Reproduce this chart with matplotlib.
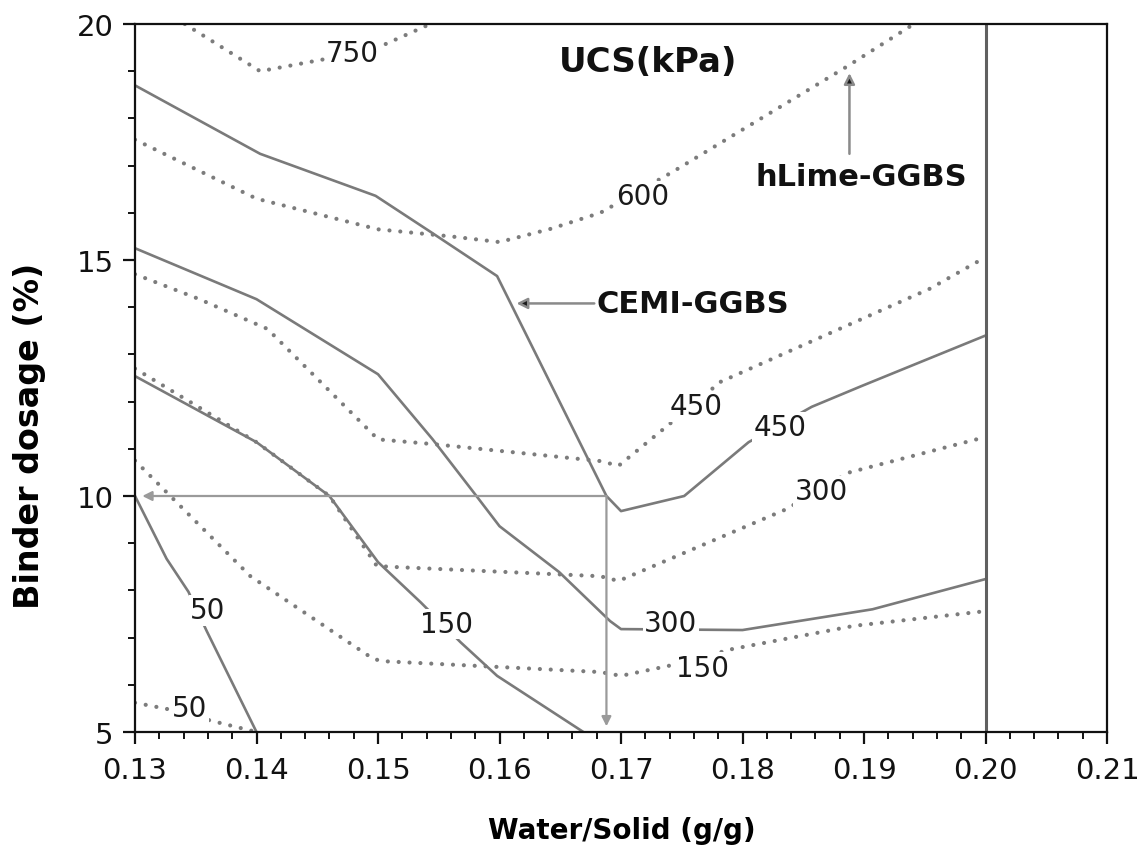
import matplotlib

matplotlib.use("Agg")
import matplotlib.pyplot as plt
from matplotlib.ticker import MultipleLocator, FormatStrFormatter

plt.rcParams["font.family"] = ["DejaVu Sans"]

# CEMI-GGBS contours (solid), UCS in kPa
cemi_450_x = [0.13, 0.1403, 0.1498, 0.1543, 0.1598, 0.1688, 0.17, 0.1752, 0.1805, 0.1857, 0.1898, 0.20]
cemi_450_y = [18.7, 17.25, 16.36, 15.6, 14.66, 10.0, 9.68, 10.0, 11.14, 11.89, 12.33, 13.4]
cemi_300_x = [0.13, 0.14, 0.15, 0.1545, 0.1581, 0.16, 0.1649, 0.1691, 0.17, 0.18, 0.1907, 0.20]
cemi_300_y = [15.25, 14.17, 12.58, 11.2, 10.0, 9.36, 8.39, 7.35, 7.18, 7.16, 7.6, 8.24]
cemi_150_x = [0.13, 0.14, 0.146, 0.15, 0.1535, 0.1568, 0.1598, 0.1669]
cemi_150_y = [12.54, 11.14, 10.0, 8.6, 7.75, 6.9, 6.19, 5.0]
cemi_50_x = [0.13, 0.1326, 0.1344, 0.1359, 0.14]
cemi_50_y = [10.0, 8.67, 7.97, 7.14, 5.0]

# hLime-GGBS contours (dotted)
hlime_750_x = [0.1341, 0.1403, 0.1455, 0.1504, 0.1543]
hlime_750_y = [20.0, 19.0, 19.25, 19.55, 20.0]
hlime_600_x = [0.13, 0.14, 0.15, 0.156, 0.16, 0.1642, 0.1683, 0.1742, 0.1886, 0.1941]
hlime_600_y = [17.55, 16.3, 15.65, 15.5, 15.38, 15.66, 16.0, 16.86, 19.1, 20.0]
hlime_450_x = [0.13, 0.1353, 0.1409, 0.15, 0.1545, 0.1683, 0.1698, 0.1735, 0.1782, 0.1954, 0.20]
hlime_450_y = [14.7, 14.17, 13.54, 11.2, 11.1, 10.74, 10.64, 11.42, 12.42, 14.39, 15.06]
hlime_300_x = [0.13, 0.14, 0.146, 0.1499, 0.151, 0.1683, 0.1698, 0.1836, 0.1888, 0.20]
hlime_300_y = [12.7, 11.14, 10.0, 8.52, 8.5, 8.3, 8.2, 9.72, 10.5, 11.25]
hlime_150_x = [0.13, 0.1395, 0.1496, 0.1504, 0.1683, 0.17, 0.1739, 0.1792, 0.1892, 0.20]
hlime_150_y = [10.75, 8.3, 6.55, 6.5, 6.27, 6.19, 6.4, 6.76, 7.25, 7.56]
hlime_50_x = [0.13, 0.1326, 0.1364, 0.14]
hlime_50_y = [5.62, 5.49, 5.23, 5.0]

# contour labels: (text, x, y)
cemi_labels = [("450", 0.1831, 11.46), ("300", 0.1741, 7.3), ("150", 0.1556, 7.29), ("50", 0.136, 7.58)]
hlime_labels = [("750", 0.1479, 19.39), ("600", 0.1718, 16.35), ("450", 0.1762, 11.9),
                ("300", 0.1865, 10.1), ("150", 0.1767, 6.36), ("50", 0.1345, 5.5)]

# design point
target_ws = 0.1688
target_dosage = 10.0
ws_limit = 0.20

line_col = "#7a7a7a"

fig = plt.figure(figsize=(11.46, 8.54), dpi=100)
ax = fig.add_axes([0.1178, 0.1417, 0.8482, 0.829])

solid_kw = dict(color=line_col, lw=1.9, solid_joinstyle="round", zorder=2)
dot_kw = dict(color="#7c7c7c", lw=3.0, linestyle=(0, (0.01, 2.6)), dash_capstyle="round", zorder=2)

for xs, ys in [(cemi_450_x, cemi_450_y), (cemi_300_x, cemi_300_y),
               (cemi_150_x, cemi_150_y), (cemi_50_x, cemi_50_y)]:
    ax.plot(xs, ys, **solid_kw)
for xs, ys in [(hlime_750_x, hlime_750_y), (hlime_600_x, hlime_600_y), (hlime_450_x, hlime_450_y),
               (hlime_300_x, hlime_300_y), (hlime_150_x, hlime_150_y), (hlime_50_x, hlime_50_y)]:
    ax.plot(xs, ys, **dot_kw)

label_box = dict(facecolor="white", edgecolor="none", pad=1.0)
for txt, x, y in cemi_labels + hlime_labels:
    ax.text(x, y, txt, ha="center", va="center", fontsize=20, color="#1a1a1a",
            bbox=label_box, zorder=3)

# vertical limit at w/s = 0.20
ax.axvline(ws_limit, color="#606060", lw=2.2, zorder=2)

# read-off arrows for the design point
arrow_col = "#9a9a9a"
ax.annotate("", xy=(0.1306, target_dosage), xytext=(target_ws, target_dosage),
            arrowprops=dict(arrowstyle="-|>", color=arrow_col, lw=1.6, mutation_scale=14,
                            shrinkA=0, shrinkB=0), zorder=2)
ax.annotate("", xy=(target_ws, 5.12), xytext=(target_ws, target_dosage),
            arrowprops=dict(arrowstyle="-|>", color=arrow_col, lw=1.6, mutation_scale=14,
                            shrinkA=0, shrinkB=0), zorder=2)

# series callouts: grey shaft, dark head
callout = dict(arrowstyle="-|>", fc="#1a1a1a", ec="#8a8a8a", lw=1.8, mutation_scale=16,
               shrinkA=0, shrinkB=0)
ax.annotate("", xy=(0.1614, 14.08), xytext=(0.1678, 14.08), arrowprops=callout)
ax.text(0.1680, 14.07, "CEMI-GGBS", ha="left", va="center", fontsize=22, fontweight="bold", color="#111111")
ax.annotate("", xy=(0.1888, 18.96), xytext=(0.1888, 17.25), arrowprops=callout)
ax.text(0.1898, 16.76, "hLime-GGBS", ha="center", va="center", fontsize=22, fontweight="bold", color="#111111")
ax.text(0.1722, 19.2, "UCS(kPa)", ha="center", va="center", fontsize=24.5, fontweight="bold", color="#111111")

ax.set_xlim(0.13, 0.21)
ax.set_ylim(5, 20)
ax.xaxis.set_major_locator(MultipleLocator(0.01))
ax.xaxis.set_minor_locator(MultipleLocator(0.002))
ax.xaxis.set_major_formatter(FormatStrFormatter("%.2f"))
ax.yaxis.set_major_locator(MultipleLocator(5))
ax.yaxis.set_minor_locator(MultipleLocator(1))

for side in ["left", "right", "top", "bottom"]:
    ax.spines[side].set_linewidth(1.6)
    ax.spines[side].set_color("#111111")
ax.tick_params(which="major", direction="out", length=8.5, width=1.6, labelsize=21,
               colors="#111111", pad=9)
ax.tick_params(which="minor", direction="out", length=5, width=1.4, colors="#111111")
ax.tick_params(axis="y", pad=7)

fig.text(0.5428, 0.027, "Water/Solid (g/g)", ha="center", va="center", fontsize=20, fontweight="bold")
fig.text(0.026, 0.4895, "Binder dosage (%)", ha="center", va="center", rotation=90,
         fontsize=24, fontweight="bold")

fig.savefig("out.png", dpi=100)
